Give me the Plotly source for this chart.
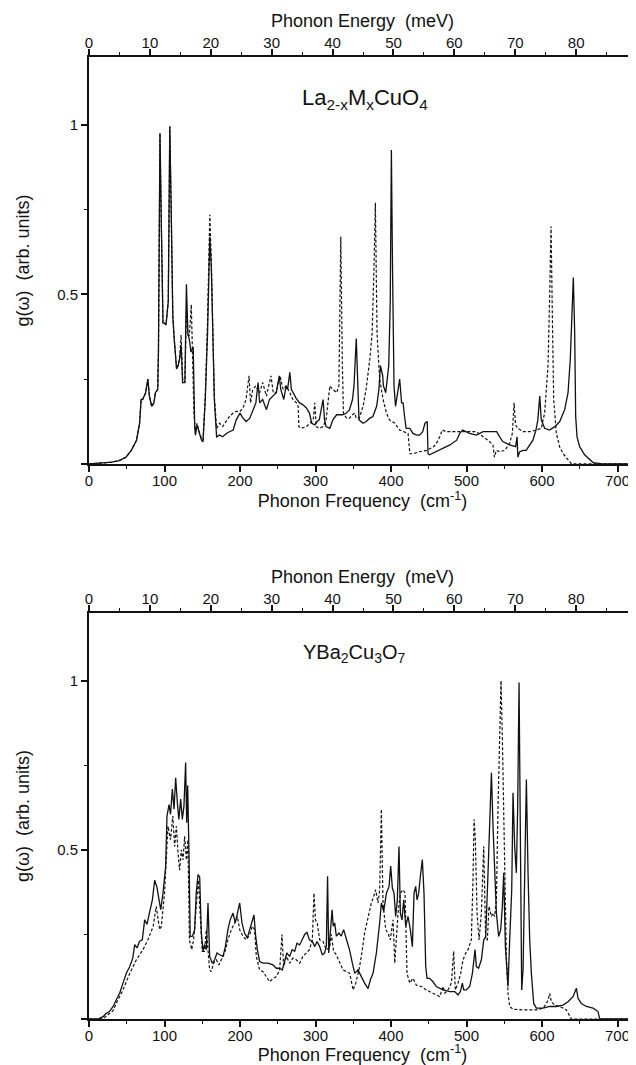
import plotly.graph_objects as go

# ---------------- data ----------------
CM_PER_MEV = 8.0655          # 1 meV = 8.0655 cm^-1
FREQ_MAX = 724.5              # cm^-1 at right edge of the frame

freq_ticks = [0, 100, 200, 300, 400, 500, 600, 700]
energy_ticks = [0, 10, 20, 30, 40, 50, 60, 70, 80]
g_tickvals = [0, 0.5, 1]
g_ticktext = ["", "0.5", "1"]

title_top = "La<sub>2-x</sub>M<sub>x</sub>CuO<sub>4</sub>"
title_bottom = "YBa<sub>2</sub>Cu<sub>3</sub>O<sub>7</sub>"

# (frequency cm^-1, g(w)) for La2-xMxCuO4, solid curve
la_solid = [
    (0, 0), (20, 0.002), (30, 0.005), (40, 0.01), (49, 0.02), (56, 0.04), (63, 0.07), (67, 0.12),
    (69, 0.19), (71, 0.19), (75, 0.21), (78, 0.25), (80, 0.20), (83, 0.17), (86, 0.18), (88, 0.21),
    (90, 0.22), (91, 0.22), (92, 0.33), (94, 0.975), (96, 0.68), (98, 0.415), (100, 0.415),
    (102, 0.41), (105, 0.48), (107, 0.995), (109, 0.73), (111, 0.435), (113, 0.365), (116, 0.28),
    (118, 0.29), (120, 0.31), (122, 0.35), (124, 0.24), (127, 0.24), (129, 0.53), (131, 0.385),
    (133, 0.365), (135, 0.33), (138, 0.345), (140, 0.11), (141, 0.085), (143, 0.115), (146, 0.09),
    (149, 0.07), (151, 0.065), (154, 0.19), (157, 0.385), (160, 0.67), (162, 0.58), (164, 0.34),
    (166, 0.19), (169, 0.08), (173, 0.085), (177, 0.08), (182, 0.09), (186, 0.095), (191, 0.10),
    (195, 0.13), (200, 0.15), (204, 0.135), (208, 0.125), (213, 0.135), (217, 0.16), (221, 0.18),
    (224, 0.24), (226, 0.18), (230, 0.19), (235, 0.16), (239, 0.19), (244, 0.20), (248, 0.21),
    (252, 0.26), (254, 0.22), (258, 0.19), (261, 0.23), (263, 0.22), (266, 0.27), (268, 0.22),
    (270, 0.21), (274, 0.195), (279, 0.18), (283, 0.175), (288, 0.165), (292, 0.15), (295, 0.12),
    (299, 0.115), (302, 0.125), (305, 0.13), (310, 0.19), (312, 0.13), (314, 0.11), (319, 0.105),
    (323, 0.13), (328, 0.145), (332, 0.145), (336, 0.145), (341, 0.15), (345, 0.16), (349, 0.19),
    (351, 0.23), (354, 0.37), (357.6, 0.13), (363, 0.12), (367, 0.125), (372, 0.135), (376, 0.14),
    (381, 0.17), (384, 0.22), (386, 0.29), (389, 0.26), (390, 0.23), (393, 0.21), (395, 0.25),
    (397, 0.29), (399, 0.48), (400.5, 0.926), (402, 0.58), (404, 0.23), (406, 0.17), (409, 0.21),
    (411.5, 0.25), (414, 0.18), (416, 0.18), (418, 0.14), (420, 0.105), (425, 0.105), (429, 0.09),
    (434, 0.085), (438, 0.085), (442, 0.095), (445, 0.12), (448, 0.125), (449, 0.03), (451, 0.027),
    (460, 0.036), (469, 0.046), (478, 0.056), (487, 0.07), (491, 0.09), (495, 0.10), (504, 0.09),
    (513, 0.085), (522, 0.095), (531, 0.095), (540, 0.095), (544, 0.08), (548, 0.066), (557, 0.056),
    (565, 0.051), (567, 0.08), (568, 0.02), (570.5, 0.036), (575, 0.04), (579, 0.04), (584, 0.056),
    (588, 0.07), (592, 0.10), (594.5, 0.13), (597, 0.20), (599, 0.13), (603.5, 0.105), (610, 0.10),
    (617, 0.11), (623.5, 0.125), (630, 0.16), (634.5, 0.21), (637.5, 0.31), (640, 0.48),
    (641.5, 0.55), (643.3, 0.385), (644.6, 0.14), (646.4, 0.08), (650, 0.05), (656.5, 0.027),
    (667.6, 0.004), (680, 0), (724, 0),
]

# La2-xMxCuO4, dashed curve
la_dashed = [
    (0, 0), (20, 0.002), (30, 0.005), (40, 0.01), (49, 0.02), (56, 0.04), (63, 0.07), (67, 0.12),
    (69, 0.19), (71, 0.19), (75, 0.21), (78, 0.25), (80, 0.20), (83, 0.17), (86, 0.18), (88, 0.21),
    (90, 0.22), (91, 0.22), (92, 0.33), (94, 0.975), (96, 0.68), (98, 0.415), (100, 0.415),
    (102, 0.41), (105, 0.48), (107, 0.995), (109, 0.73), (111, 0.435), (113, 0.365), (116, 0.28),
    (118, 0.29), (120, 0.31), (122, 0.38), (124, 0.25), (127, 0.24), (129, 0.45), (131, 0.38),
    (133, 0.38), (135.5, 0.47), (137, 0.33), (139, 0.15), (141, 0.09), (143, 0.12), (146, 0.095),
    (149, 0.075), (151, 0.07), (154, 0.20), (157, 0.42), (160, 0.735), (162, 0.60), (164, 0.35),
    (166, 0.20), (169, 0.105), (173, 0.12), (177, 0.11), (182, 0.125), (186, 0.14), (191, 0.15),
    (195, 0.155), (200, 0.155), (204, 0.165), (208, 0.19), (212, 0.26), (214, 0.18), (217, 0.22),
    (221, 0.23), (226, 0.21), (230, 0.24), (235, 0.20), (241, 0.26), (244, 0.21), (248, 0.21),
    (253, 0.26), (257, 0.22), (261, 0.23), (266, 0.21), (270, 0.19), (275, 0.18), (277, 0.17),
    (278, 0.11), (281, 0.105), (288, 0.11), (297, 0.13), (299, 0.18), (301, 0.11), (305, 0.105),
    (310, 0.11), (314, 0.13), (319, 0.23), (323, 0.22), (328, 0.21), (331, 0.23), (333.5, 0.67),
    (335.5, 0.30), (337, 0.15), (341, 0.135), (345, 0.135), (349, 0.145), (352, 0.15), (354, 0.135),
    (358, 0.135), (363, 0.17), (367, 0.22), (372, 0.31), (375, 0.385), (377.5, 0.58), (379.3, 0.77),
    (381.5, 0.385), (385, 0.25), (389.5, 0.19), (394, 0.15), (398, 0.13), (405, 0.12), (411.5, 0.10),
    (418, 0.095), (422.6, 0.09), (425, 0.03), (429, 0.03), (438, 0.036), (447, 0.04), (456, 0.05),
    (460, 0.06), (464.5, 0.08), (468, 0.10), (473, 0.095), (482, 0.095), (495, 0.095), (513, 0.095),
    (522, 0.08), (528.5, 0.07), (535, 0.056), (537, 0.02), (539.5, 0.04), (544, 0.036),
    (550.6, 0.04), (557, 0.06), (560.7, 0.09), (563, 0.18), (565, 0.115), (568, 0.105), (575, 0.095),
    (584, 0.095), (592.5, 0.10), (599, 0.105), (603.5, 0.15), (608, 0.29), (610, 0.48), (612, 0.70),
    (613.7, 0.435), (615.5, 0.19), (619, 0.09), (623.5, 0.05), (628, 0.03), (634.5, 0.012),
    (639, 0), (724, 0),
]

# YBa2Cu3O7, solid curve
yba_solid = [
    (0, 0), (12, 0), (18.5, 0.007), (23, 0.017), (27, 0.022), (32, 0.037), (36, 0.056), (40.6, 0.076),
    (45, 0.106), (49.4, 0.135), (54, 0.155), (58, 0.18), (60.5, 0.22), (63.6, 0.21), (67, 0.23),
    (70.6, 0.234), (73.7, 0.293), (76.8, 0.28), (80, 0.313), (84, 0.353), (87, 0.41), (90, 0.39),
    (92.7, 0.353), (95, 0.323), (98, 0.372), (101.5, 0.45), (103.3, 0.60), (106, 0.634), (108, 0.605),
    (110.4, 0.68), (112.6, 0.62), (114.8, 0.713), (117, 0.64), (119, 0.59), (121.4, 0.65),
    (123.6, 0.59), (125.8, 0.63), (128, 0.758), (129.4, 0.58), (130.7, 0.69), (132.5, 0.48),
    (134, 0.244), (136.9, 0.244), (140, 0.264), (142, 0.372), (144.4, 0.427), (146.6, 0.42),
    (148.8, 0.254), (151, 0.20), (153, 0.22), (155.4, 0.205), (157.6, 0.343), (159.8, 0.185),
    (163.4, 0.165), (166.4, 0.175), (169.5, 0.195), (173, 0.19), (177.5, 0.185), (180.6, 0.214),
    (184, 0.264), (187, 0.293), (190.7, 0.313), (193.8, 0.284), (196.5, 0.313), (199.6, 0.343),
    (202.6, 0.284), (206, 0.254), (209.7, 0.24), (212.8, 0.264), (216.3, 0.293), (218.5, 0.308),
    (220.8, 0.244), (223, 0.205), (226, 0.17), (230.5, 0.165), (237, 0.165), (243.7, 0.16),
    (248, 0.15), (252.5, 0.15), (256, 0.145), (259, 0.175), (262, 0.195), (265.8, 0.185),
    (269, 0.205), (272.4, 0.20), (275.5, 0.224), (279, 0.219), (282.6, 0.234), (285.7, 0.25),
    (288.7, 0.256), (292, 0.234), (295.8, 0.229), (299, 0.214), (302, 0.229), (305.5, 0.214),
    (309, 0.19), (312, 0.195), (314.3, 0.214), (316, 0.422), (317.5, 0.195), (319.6, 0.264),
    (322, 0.323), (323.5, 0.274), (325.4, 0.284), (327.6, 0.245), (331, 0.254), (334, 0.245),
    (337.3, 0.264), (341, 0.235), (345, 0.205), (348.8, 0.165), (352, 0.135), (356.3, 0.145),
    (360.7, 0.125), (365, 0.106), (369.6, 0.09), (372.7, 0.116), (376.2, 0.135), (380.6, 0.195),
    (385, 0.284), (387.2, 0.343), (390.3, 0.318), (393.9, 0.372), (397.4, 0.392), (399.6, 0.452),
    (401.8, 0.387), (404, 0.372), (406.2, 0.303), (408.4, 0.352), (410.6, 0.51), (412.4, 0.313),
    (414.6, 0.293), (416.8, 0.352), (419.5, 0.274), (422.6, 0.303), (425.6, 0.264), (428.3, 0.214),
    (430.5, 0.372), (432.7, 0.392), (434.5, 0.352), (436.7, 0.372), (438.9, 0.422), (441.5, 0.471),
    (443.7, 0.372), (446, 0.155), (447.7, 0.12), (451.2, 0.12), (455.7, 0.11), (460, 0.096),
    (469, 0.086), (477.7, 0.081), (484.4, 0.081), (488.8, 0.071), (491.9, 0.081), (494.5, 0.106),
    (496.3, 0.086), (499.8, 0.086), (504.2, 0.096), (507.8, 0.135), (511.3, 0.205), (513, 0.155),
    (516, 0.15), (519.7, 0.175), (522.8, 0.234), (525.4, 0.244), (528.5, 0.432), (530.7, 0.59),
    (533, 0.728), (535.1, 0.57), (537.3, 0.432), (539.6, 0.313), (542.6, 0.244), (545.3, 0.264),
    (547.5, 0.333), (549.3, 0.432), (551.5, 0.214), (555, 0.096), (557.2, 0.234), (559.9, 0.382),
    (561.6, 0.669), (563.8, 0.51), (566, 0.432), (567.8, 0.629), (569.6, 0.995), (571.3, 0.53),
    (573.1, 0.086), (574.9, 0.145), (577.1, 0.432), (579.3, 0.708), (581.5, 0.432), (583.7, 0.234),
    (585.9, 0.135), (589, 0.046), (592.5, 0.032), (601.4, 0.032), (610.2, 0.037), (619, 0.037),
    (627.8, 0.041), (634.5, 0.051), (641.1, 0.066), (645.5, 0.091), (647.7, 0.061), (652.1, 0.046),
    (658.8, 0.037), (667.6, 0.032), (674.2, 0.022), (676.4, 0), (724, 0),
]

# YBa2Cu3O7, dashed curve
yba_dashed = [
    (0, 0), (15, 0), (20, 0.004), (27, 0.015), (32, 0.025), (36, 0.046), (45, 0.086), (54, 0.135),
    (62.7, 0.175), (71.5, 0.205), (78, 0.234), (85, 0.274), (89, 0.333), (93.6, 0.264),
    (95.8, 0.274), (100, 0.372), (102.4, 0.49), (104.6, 0.57), (108, 0.53), (111, 0.60),
    (113.5, 0.51), (115.7, 0.57), (118, 0.49), (120, 0.44), (122.3, 0.50), (124.5, 0.47),
    (126.7, 0.54), (129, 0.47), (131, 0.53), (133, 0.234), (136, 0.205), (138.6, 0.234),
    (142, 0.333), (145, 0.41), (147.5, 0.30), (150, 0.20), (153, 0.20), (155.4, 0.264),
    (157.6, 0.205), (159.8, 0.145), (162, 0.14), (165, 0.165), (168.7, 0.175), (172, 0.16),
    (175.3, 0.175), (179.7, 0.195), (184, 0.234), (188.5, 0.264), (193, 0.284), (196.5, 0.303),
    (199.6, 0.264), (204, 0.244), (208.3, 0.234), (212.8, 0.249), (216.3, 0.274), (219.4, 0.264),
    (221.6, 0.185), (226, 0.145), (230.5, 0.14), (235, 0.125), (239.3, 0.11), (243.7, 0.12),
    (248, 0.125), (252.5, 0.145), (255.6, 0.25), (257.8, 0.155), (261.4, 0.185), (265.8, 0.165),
    (270, 0.18), (274.6, 0.175), (279, 0.165), (283.4, 0.185), (287.9, 0.195), (292, 0.205),
    (295.8, 0.234), (298, 0.372), (300, 0.293), (302.4, 0.283), (305.5, 0.234), (310, 0.229),
    (314.3, 0.205), (318.7, 0.21), (321, 0.25), (324, 0.20), (327.6, 0.19), (332, 0.165),
    (336.4, 0.145), (341, 0.14), (345.3, 0.135), (349.8, 0.086), (353.3, 0.106), (357.6, 0.145),
    (360.7, 0.185), (365, 0.254), (369.6, 0.303), (374, 0.343), (377, 0.362), (379.7, 0.382),
    (382.8, 0.343), (385, 0.382), (387.2, 0.62), (389.4, 0.343), (393, 0.264), (396, 0.254),
    (399, 0.234), (402.7, 0.293), (405, 0.165), (407, 0.234), (409.3, 0.313), (412.4, 0.372),
    (416, 0.382), (418.6, 0.372), (421.2, 0.135), (424.8, 0.106), (429.2, 0.12), (433.6, 0.10),
    (440.2, 0.096), (446.8, 0.086), (455.7, 0.076), (464.5, 0.066), (469, 0.096), (471.1, 0.076),
    (475.5, 0.086), (477.7, 0.096), (480, 0.106), (483, 0.20), (485.2, 0.086), (488.8, 0.106),
    (492.3, 0.135), (495.4, 0.175), (499, 0.195), (502, 0.205), (506.4, 0.234), (508.6, 0.412),
    (510, 0.59), (511.7, 0.53), (514, 0.313), (516.6, 0.234), (519.7, 0.313), (522.8, 0.51),
    (525.4, 0.234), (527.6, 0.234), (529.8, 0.333), (533, 0.303), (535.1, 0.313), (537.3, 0.303),
    (539.6, 0.353), (541.8, 0.63), (544, 0.877), (545.7, 1.0), (547.5, 0.83), (549.3, 0.60),
    (551, 0.333), (552.8, 0.185), (555, 0.076), (557.2, 0.037), (561.6, 0.029), (574.9, 0.027),
    (592.5, 0.027), (601.4, 0.032), (605.8, 0.046), (608, 0.056), (610.2, 0.076), (612.4, 0.051),
    (616.8, 0.041), (623.5, 0.037), (632.3, 0.027), (636.7, 0.007), (638.9, 0), (724, 0),
]

# ---------------- figure ----------------
# The page body has an 8 px margin, so the figure is 8 px smaller than the window
FONT = "Liberation Sans, Arial, sans-serif"
BLACK = "#111111"


def xs(pairs):
    return [p[0] for p in pairs]


def ys(pairs):
    return [p[1] for p in pairs]


fig = go.Figure()

solid_line = dict(color=BLACK, width=1.3)
dash_line = dict(color=BLACK, width=1.2, dash="3px,2px")

fig.add_trace(go.Scatter(x=xs(la_dashed), y=ys(la_dashed), mode="lines", line=dash_line,
                         xaxis="x", yaxis="y", showlegend=False, hoverinfo="skip"))
fig.add_trace(go.Scatter(x=xs(la_solid), y=ys(la_solid), mode="lines", line=solid_line,
                         xaxis="x", yaxis="y", showlegend=False, hoverinfo="skip"))
fig.add_trace(go.Scatter(x=xs(yba_dashed), y=ys(yba_dashed), mode="lines", line=dash_line,
                         xaxis="x3", yaxis="y2", showlegend=False, hoverinfo="skip"))
fig.add_trace(go.Scatter(x=xs(yba_solid), y=ys(yba_solid), mode="lines", line=solid_line,
                         xaxis="x3", yaxis="y2", showlegend=False, hoverinfo="skip"))
# empty traces so the meV axes get their own subplots
fig.add_trace(go.Scatter(x=[], y=[], xaxis="x2", yaxis="y", showlegend=False, hoverinfo="skip"))
fig.add_trace(go.Scatter(x=[], y=[], xaxis="x4", yaxis="y2", showlegend=False, hoverinfo="skip"))

tickfont = dict(family=FONT, size=15, color=BLACK)
titlefont = dict(family=FONT, size=18, color=BLACK)

freq_axis = dict(
    range=[0, FREQ_MAX], tickmode="array", tickvals=freq_ticks,
    ticks="outside", ticklen=6, tickwidth=1.5, tickcolor=BLACK, ticklabelstandoff=-4,
    minor=dict(tickvals=[f + 50 for f in freq_ticks], ticks="outside", ticklen=3,
               tickwidth=1.2, tickcolor=BLACK),
    showline=True, linewidth=2, linecolor=BLACK, showgrid=False, zeroline=False,
    tickfont=tickfont, automargin=False,
    title=dict(text="Phonon Frequency  (cm<sup>-1</sup>)", font=titlefont, standoff=3),
)
energy_axis = dict(
    range=[0, FREQ_MAX / CM_PER_MEV], tickmode="array", tickvals=energy_ticks,
    side="top", ticks="outside", ticklen=6, tickwidth=1.5, tickcolor=BLACK, ticklabelstandoff=-5,
    minor=dict(tickvals=[e + 5 for e in energy_ticks], ticks="outside", ticklen=3,
               tickwidth=1.2, tickcolor=BLACK),
    showline=True, linewidth=2, linecolor=BLACK, showgrid=False, zeroline=False,
    tickfont=tickfont, automargin=False,
    title=dict(text="Phonon Energy  (meV)", font=titlefont, standoff=2),
)
g_axis = dict(
    range=[0, 1.2], tickmode="array", tickvals=g_tickvals, ticktext=g_ticktext,
    ticks="outside", ticklen=6, tickwidth=1.5, tickcolor=BLACK,
    minor=dict(tickvals=[0.25, 0.75], ticks="outside", ticklen=3, tickwidth=1.2,
               tickcolor=BLACK),
    showline=True, linewidth=2, linecolor=BLACK, showgrid=False, zeroline=False,
    tickfont=tickfont, automargin=False,
    title=dict(text="g(ω)  (arb. units)", font=titlefont, standoff=23),
)

fig.update_layout(
    width=628, height=1057,
    margin=dict(l=81, r=0, t=49, b=46),
    paper_bgcolor="white", plot_bgcolor="white",
    font=dict(family=FONT, color=BLACK),
    xaxis=dict(freq_axis, anchor="y", domain=[0, 1]),
    xaxis2=dict(energy_axis, anchor="y", overlaying="x"),
    xaxis3=dict(freq_axis, anchor="y2", domain=[0, 1]),
    xaxis4=dict(energy_axis, anchor="y2", overlaying="x3"),
    yaxis=dict(g_axis, anchor="x", domain=[0.577, 1.0]),
    yaxis2=dict(g_axis, anchor="x3", domain=[0.0, 0.422]),
    annotations=[
        dict(text=title_top, x=366, y=1.075, xref="x", yref="y", showarrow=False,
             font=dict(family=FONT, size=22, color=BLACK), xanchor="center", yanchor="middle"),
        dict(text=title_bottom, x=352, y=1.08, xref="x3", yref="y2", showarrow=False,
             font=dict(family=FONT, size=20, color=BLACK), xanchor="center", yanchor="middle"),
    ],
)

fig.write_html("out.html")
